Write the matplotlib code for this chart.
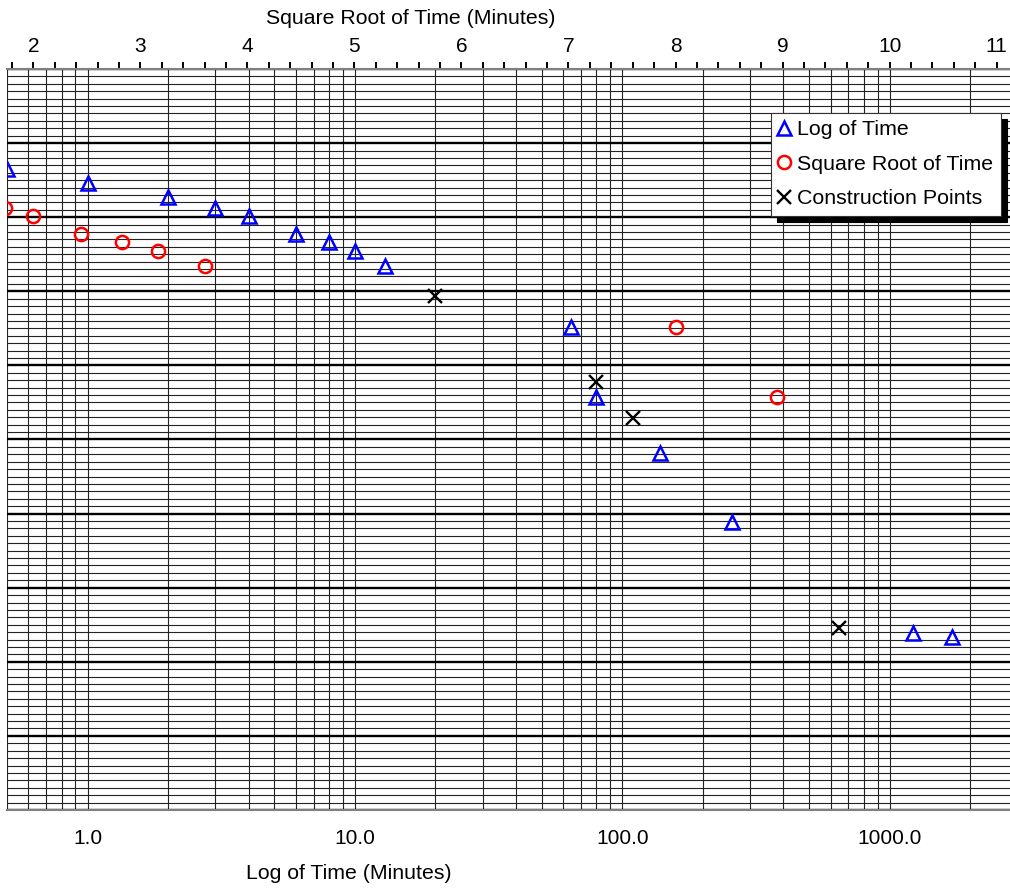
import numpy as np
import matplotlib
matplotlib.use('Agg')
import matplotlib.pyplot as plt
from matplotlib.ticker import LogLocator, MultipleLocator, FuncFormatter, NullFormatter

plt.rcParams['font.family'] = ['Liberation Sans', 'DejaVu Sans']

# elapsed time (minutes) and dial reading (in major grid divisions, 0 at top)
time_min = [0.5, 1, 2, 3, 4, 6, 8, 10, 13, 64, 80, 138, 256, 1224, 1712]
reading = [1.356, 1.534, 1.730, 1.880, 1.987, 2.233, 2.330, 2.458, 2.652,
           3.482, 4.422, 5.178, 6.109, 7.616, 7.661]

# construction points (log of time)
construct_time = [20, 80, 110, 648]
construct_reading = [3.059, 4.220, 4.714, 7.548]

W, H = 1010, 896
fig = plt.figure(figsize=(W / 100, H / 100), dpi=100)
# plot area in pixels: x 7..1010, y 69..810
ax = fig.add_axes([7 / W, 1 - 810 / H, 1003 / W, 741 / H])

ax.set_xscale('log')
ax.set_xlim(0.5, 2814)
ax.set_ylim(10, 0)

ax.xaxis.set_major_locator(LogLocator(base=10, numticks=100))
ax.xaxis.set_minor_locator(LogLocator(base=10, subs=(2, 3, 4, 5, 6, 7, 8, 9), numticks=100))
ax.xaxis.set_major_formatter(FuncFormatter(lambda v, p: f"{v:.1f}"))
ax.xaxis.set_minor_formatter(NullFormatter())
ax.yaxis.set_major_locator(MultipleLocator(1))
ax.yaxis.set_minor_locator(MultipleLocator(0.1))

ax.grid(which='both', axis='x', color='#222222', lw=0.8)
ax.grid(which='major', axis='y', color='black', lw=1.7)
ax.grid(which='minor', axis='y', color='#222222', lw=0.8)
ax.tick_params(axis='both', which='both', length=0)
ax.tick_params(axis='y', labelleft=False)
ax.tick_params(axis='x', labelsize=15, pad=14)

for s in ['top', 'left', 'right']:
    ax.spines[s].set_visible(False)
ax.spines['bottom'].set_color('#808080')
ax.spines['bottom'].set_linewidth(1.5)

# top axis: square root of time
ax2 = ax.twiny()
ax2.set_xlim(1.754, 11.125)
ax2.xaxis.set_major_locator(MultipleLocator(1))
ax2.xaxis.set_minor_locator(MultipleLocator(0.2))
ax2.tick_params(axis='x', which='both', direction='out', length=4.7, width=1.4,
                color='black', labelsize=15, pad=4.6)
for s in ['bottom', 'left', 'right']:
    ax2.spines[s].set_visible(False)
ax2.spines['top'].set_color('#808080')
ax2.spines['top'].set_linewidth(1.5)

tri, = ax.plot(time_min, reading, ls='none', marker='^', ms=10, mfc='none',
               mec='blue', mew=1.8, label='Log of Time')
cross, = ax.plot(construct_time, construct_reading, ls='none', marker='x', ms=10.5,
                 mec='black', mew=1.7, label='Construction Points')
circ, = ax2.plot(np.sqrt(time_min), reading, ls='none', marker='o', ms=9.5, mfc='none',
                 mec='red', mew=1.8, label='Square Root of Time')

leg = ax2.legend([tri, circ, cross],
                 ['Log of Time', 'Square Root of Time', 'Construction Points'],
                 loc='upper right', bbox_to_anchor=(1000.7 / W, 1 - 112.7 / H),
                 bbox_transform=fig.transFigure, borderaxespad=0, fontsize=15.4,
                 frameon=True, fancybox=False, framealpha=1, edgecolor='#333333',
                 borderpad=0.36, labelspacing=0.72, handlelength=0.5, handletextpad=0.34,
                 shadow={'ox': 4.3, 'oy': -4.3, 'facecolor': 'black',
                         'edgecolor': 'black', 'alpha': 1})
leg.get_frame().set_linewidth(0.8)

fig.text(349 / W, 1 - 873 / H, 'Log of Time (Minutes)', ha='center', va='center', fontsize=15.3)
fig.text(411 / W, 1 - 18 / H, 'Square Root of Time (Minutes)', ha='center', va='center', fontsize=15.3)

fig.savefig('out.png', dpi=100)
